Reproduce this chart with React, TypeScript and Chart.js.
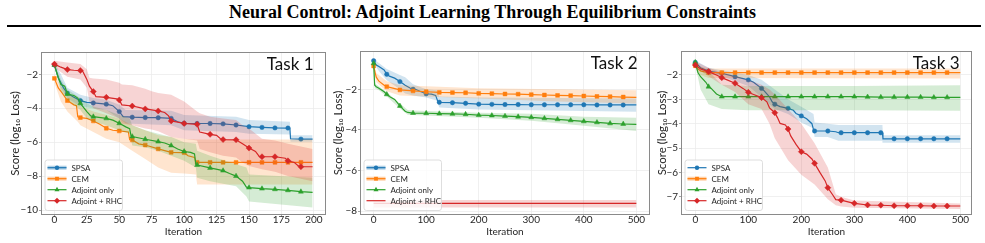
import { useEffect, useRef } from 'react';
import { Chart, registerables } from 'chart.js';

Chart.register(...registerables);

type Pt = [number, number]; // iteration, mean score
type Band = [number, number, number]; // iteration, upper, lower

const SERIES_NAMES = ['SPSA', 'CEM', 'Adjoint only', 'Adjoint + RHC'];
const SERIES_COLORS = ['#1f77b4', '#ff7f0e', '#2ca02c', '#d62728'];
const SERIES_MARKERS = ['circle', 'rect', 'triangle', 'rectRot'];

const FONT = 'Lato, "DejaVu Sans", sans-serif';
const TEXT = '#262626';
const GRID = '#ececec';
const FRAME = '#8a8a8a';

// ---------- Task 1 ----------
const task1XTicks = [0, 25, 50, 75, 100, 125, 150, 175, 200];
const task1YTicks = [-10, -8, -6, -4, -2];

const task1Spsa: Pt[] = [
  [0, -1.45], [3, -2.2], [7, -2.8], [10, -3.12], [15, -3.35], [20, -3.55], [25, -3.65], [30, -3.69],
  [40, -3.76], [45, -3.85], [50, -4.2], [53, -4.5], [60, -4.53], [70, -4.55], [80, -4.56], [90, -4.6],
  [95, -4.8], [100, -4.89], [110, -4.9], [120, -4.9], [130, -4.92], [140, -4.99], [150, -5.09],
  [160, -5.13], [170, -5.16], [180, -5.17], [181.5, -5.17], [182, -5.8], [190, -5.82], [199, -5.82],
];
const task1SpsaBand: Band[] = [
  [0, -1.35, -1.55], [5, -2.0, -2.8], [10, -2.8, -3.4], [20, -3.2, -3.9], [30, -3.4, -4.0],
  [40, -3.5, -4.1], [50, -3.8, -4.6], [55, -4.1, -4.9], [90, -4.15, -5.0], [100, -4.4, -5.3],
  [140, -4.5, -5.4], [150, -4.7, -5.5], [181.5, -4.8, -5.55], [182, -5.6, -5.98], [199, -5.6, -5.98],
];
const task1Cem: Pt[] = [
  [0, -2.24], [3, -2.8], [5, -3.0], [10, -3.55], [15, -3.8], [17, -3.85], [18, -4.5], [20, -4.55],
  [25, -4.6], [30, -4.75], [35, -4.95], [40, -5.18], [45, -5.3], [50, -5.34], [57, -5.4], [58, -5.85],
  [60, -5.87], [65, -6.1], [70, -6.17], [80, -6.4], [85, -6.5], [90, -6.6], [100, -6.62], [103, -6.8],
  [108, -6.9], [109, -7.19], [110, -7.19], [120, -7.19], [130, -7.19], [140, -7.19], [150, -7.19],
  [160, -7.19], [170, -7.19], [180, -7.19], [190, -7.19], [199, -7.19],
];
const task1CemBand: Band[] = [
  [0, -2.0, -2.5], [5, -2.7, -3.6], [10, -3.1, -4.2], [18, -3.5, -4.8], [20, -3.9, -5.0],
  [30, -4.2, -5.4], [40, -4.4, -5.8], [50, -4.6, -6.0], [60, -5.0, -6.5], [70, -5.3, -7.0],
  [80, -5.6, -7.5], [90, -5.7, -7.8], [100, -5.8, -7.85], [109, -5.85, -7.9], [110, -5.85, -8.5],
  [199, -5.85, -8.5],
];
const task1Adj: Pt[] = [
  [0, -1.45], [3, -2.2], [5, -2.6], [8, -2.7], [10, -3.16], [15, -3.25], [18, -3.4], [20, -3.71],
  [25, -4.2], [28, -4.45], [30, -4.5], [40, -4.6], [45, -4.7], [50, -4.89], [55, -5.1], [58, -5.2],
  [59, -5.6], [60, -5.67], [70, -5.83], [80, -5.97], [85, -6.05], [90, -6.2], [95, -6.4], [100, -6.55],
  [105, -6.6], [108, -6.7], [109, -7.3], [110, -7.35], [120, -7.52], [130, -7.68], [135, -7.85],
  [140, -8.0], [145, -8.3], [148, -8.65], [150, -8.68], [160, -8.74], [170, -8.78], [180, -8.84],
  [190, -8.92], [199, -8.96],
];
const task1AdjBand: Band[] = [
  [0, -1.35, -1.6], [5, -2.3, -3.0], [10, -2.9, -3.5], [20, -3.4, -4.1], [25, -3.7, -4.6],
  [30, -3.9, -4.8], [40, -4.1, -5.0], [50, -4.4, -5.3], [58, -4.6, -5.5], [60, -5.0, -6.2],
  [70, -5.3, -6.3], [80, -5.5, -6.5], [90, -5.7, -6.8], [100, -6.0, -7.1], [109, -6.1, -7.5],
  [110, -6.5, -8.1], [120, -6.8, -8.3], [140, -7.3, -8.6], [148, -7.5, -9.2], [150, -7.9, -9.5],
  [199, -8.1, -9.85],
];
const task1Rhc: Pt[] = [
  [0, -1.4], [5, -1.58], [10, -1.72], [15, -1.76], [20, -1.78], [22, -1.85], [25, -2.3], [27, -2.7],
  [30, -3.02], [32, -3.32], [40, -3.36], [48, -3.45], [50, -3.51], [52, -3.8], [60, -3.87], [65, -3.95],
  [70, -4.04], [80, -4.16], [85, -4.25], [88, -4.45], [90, -4.75], [95, -4.82], [100, -4.9], [110, -4.95],
  [112, -5.4], [120, -5.54], [125, -5.6], [128, -5.8], [130, -5.85], [140, -5.86], [145, -6.1],
  [150, -6.35], [155, -6.55], [158, -6.85], [160, -6.86], [170, -6.86], [178, -6.95], [180, -7.1],
  [185, -7.2], [188, -7.4], [190, -7.45], [199, -7.45],
];
const task1RhcBand: Band[] = [
  [0, -1.2, -1.6], [10, -1.3, -2.15], [20, -1.4, -2.3], [25, -1.7, -2.8], [27, -2.2, -3.6],
  [30, -2.25, -4.0], [40, -2.3, -4.3], [50, -2.5, -4.6], [52, -2.6, -4.9], [60, -2.65, -5.0],
  [70, -2.85, -5.2], [75, -3.0, -5.25], [80, -3.1, -5.35], [90, -3.2, -5.7], [100, -3.6, -5.8],
  [110, -4.2, -5.9], [112, -4.3, -6.4], [120, -4.5, -6.6], [130, -4.6, -6.8], [140, -4.7, -6.9],
  [145, -5.0, -7.2], [150, -5.2, -7.4], [160, -5.8, -7.6], [170, -5.9, -7.75], [180, -6.1, -8.0],
  [199, -6.4, -8.3],
];

// ---------- Task 2 ----------
const task2XTicks = [0, 100, 200, 300, 400, 500];
const task2YTicks = [-8, -6, -4, -2];

const task2Spsa: Pt[] = [
  [0, -0.59], [5, -0.8], [10, -0.88], [20, -1.05], [25, -1.26], [30, -1.35], [40, -1.45], [50, -1.62],
  [60, -1.8], [70, -1.95], [75, -2.0], [80, -2.0], [90, -2.12], [100, -2.22], [110, -2.24], [118, -2.3],
  [122, -2.58], [125, -2.64], [150, -2.66], [175, -2.69], [200, -2.73], [225, -2.74], [250, -2.75],
  [275, -2.75], [300, -2.76], [325, -2.76], [350, -2.76], [375, -2.76], [400, -2.76], [425, -2.77],
  [450, -2.77], [475, -2.77], [500, -2.77],
];
const task2SpsaBand: Band[] = [
  [0, -0.5, -0.7], [10, -0.7, -1.1], [25, -1.0, -1.55], [50, -1.3, -2.0], [60, -1.4, -2.2],
  [75, -1.75, -2.3], [100, -2.0, -2.4], [120, -2.05, -2.55], [125, -2.35, -2.9], [200, -2.4, -3.0],
  [500, -2.45, -3.1],
];
const task2Cem: Pt[] = [
  [0, -0.85], [3, -1.2], [5, -1.4], [10, -1.6], [20, -1.8], [25, -1.87], [50, -2.03], [75, -2.08],
  [100, -2.12], [125, -2.15], [150, -2.16], [175, -2.17], [200, -2.2], [225, -2.21], [250, -2.23],
  [275, -2.24], [300, -2.26], [325, -2.28], [350, -2.3], [375, -2.31], [400, -2.33], [425, -2.35],
  [450, -2.36], [475, -2.38], [500, -2.4],
];
const task2CemBand: Band[] = [
  [0, -0.7, -1.0], [5, -1.2, -1.65], [25, -1.6, -2.1], [50, -1.8, -2.3], [100, -1.85, -2.35],
  [200, -1.95, -2.45], [350, -2.0, -2.6], [500, -2.05, -2.7],
];
const task2Adj: Pt[] = [
  [0, -0.72], [2, -1.8], [5, -1.87], [10, -1.95], [20, -2.12], [25, -2.25], [30, -2.35], [40, -2.5],
  [50, -2.82], [55, -2.95], [60, -3.08], [65, -3.14], [75, -3.17], [100, -3.18], [125, -3.2],
  [150, -3.21], [175, -3.23], [200, -3.27], [225, -3.29], [250, -3.32], [275, -3.35], [300, -3.38],
  [325, -3.43], [350, -3.48], [375, -3.53], [400, -3.58], [425, -3.63], [450, -3.68], [475, -3.71],
  [500, -3.73],
];
const task2AdjBand: Band[] = [
  [0, -0.6, -0.8], [2, -1.7, -1.95], [10, -1.85, -2.05], [25, -2.15, -2.35], [50, -2.7, -2.95],
  [65, -3.02, -3.25], [75, -3.05, -3.27], [200, -3.15, -3.4], [300, -3.2, -3.55], [400, -3.35, -3.8],
  [500, -3.4, -4.05],
];
const task2Rhc: Pt[] = [[0, -7.62], [500, -7.62]];
const task2RhcBand: Band[] = [[0, -7.45, -7.82], [500, -7.45, -7.82]];

// ---------- Task 3 ----------
const task3XTicks = [0, 100, 200, 300, 400, 500];
const task3YTicks = [-7, -6, -5, -4, -3, -2];

const task3Spsa: Pt[] = [
  [0, -1.48], [10, -1.7], [25, -1.84], [50, -1.93], [75, -2.07], [100, -2.2], [110, -2.3], [125, -2.55],
  [130, -2.65], [140, -2.9], [145, -3.1], [150, -3.2], [160, -3.3], [175, -3.37], [185, -3.45],
  [190, -3.58], [200, -3.68], [210, -3.8], [220, -4.0], [223, -4.25], [225, -4.3], [250, -4.3],
  [265, -4.33], [270, -4.37], [275, -4.37], [300, -4.37], [325, -4.37], [350, -4.37], [353, -4.37],
  [354, -4.62], [375, -4.62], [400, -4.62], [425, -4.62], [450, -4.62], [475, -4.62], [500, -4.62],
];
const task3SpsaBand: Band[] = [
  [0, -1.4, -1.6], [25, -1.7, -1.95], [50, -1.8, -2.05], [100, -2.0, -2.45], [125, -2.2, -2.9],
  [150, -2.6, -3.4], [175, -3.0, -3.6], [200, -3.3, -3.95], [223, -3.6, -4.2], [225, -3.95, -4.55],
  [250, -4.0, -4.55], [270, -4.05, -4.7], [353, -4.05, -4.7], [354, -4.47, -4.78], [500, -4.47, -4.78],
];
const task3Cem: Pt[] = [
  [0, -1.62], [5, -1.75], [10, -1.83], [20, -1.88], [25, -1.9], [50, -1.9], [75, -1.9], [100, -1.9],
  [125, -1.9], [150, -1.9], [175, -1.9], [200, -1.9], [225, -1.9], [250, -1.9], [275, -1.9], [300, -1.9],
  [325, -1.9], [350, -1.9], [375, -1.9], [400, -1.9], [425, -1.9], [450, -1.9], [475, -1.9], [500, -1.9],
];
const task3CemBand: Band[] = [
  [0, -1.5, -1.72], [10, -1.65, -2.0], [25, -1.73, -2.12], [500, -1.73, -2.14],
];
const task3Adj: Pt[] = [
  [0, -1.48], [5, -1.9], [10, -2.07], [20, -2.3], [25, -2.48], [30, -2.55], [40, -2.78], [50, -2.89],
  [75, -2.89], [100, -2.89], [125, -2.89], [150, -2.89], [175, -2.89], [200, -2.89], [225, -2.89],
  [250, -2.89], [275, -2.89], [300, -2.89], [325, -2.9], [350, -2.91], [375, -2.91], [400, -2.91],
  [425, -2.91], [450, -2.92], [475, -2.92], [500, -2.92],
];
const task3AdjBand: Band[] = [
  [0, -1.4, -1.6], [10, -1.7, -2.6], [25, -1.85, -3.2], [50, -2.4, -3.4], [100, -2.45, -3.45],
  [300, -2.45, -3.45], [500, -2.42, -3.47],
];
const task3Rhc: Pt[] = [
  [0, -1.59], [10, -1.75], [25, -1.86], [40, -2.0], [50, -2.11], [60, -2.2], [75, -2.34], [90, -2.55],
  [100, -2.71], [110, -2.8], [125, -2.93], [135, -3.1], [140, -3.35], [150, -3.55], [155, -3.75],
  [160, -3.99], [170, -4.05], [175, -4.22], [180, -4.5], [190, -4.85], [200, -5.15], [210, -5.25],
  [220, -5.45], [225, -5.63], [235, -6.0], [245, -6.35], [250, -6.63], [260, -6.95], [265, -7.12],
  [275, -7.14], [290, -7.22], [300, -7.27], [325, -7.34], [350, -7.35], [375, -7.37], [400, -7.37],
  [425, -7.37], [450, -7.38], [475, -7.38], [500, -7.38],
];
const task3RhcBand: Band[] = [
  [0, -1.45, -1.7], [25, -1.7, -2.05], [50, -1.9, -2.4], [75, -2.05, -2.7], [100, -2.2, -3.2],
  [125, -2.4, -3.4], [140, -2.6, -4.0], [150, -2.8, -4.6], [175, -3.4, -5.5], [200, -4.0, -6.1],
  [225, -4.8, -6.5], [250, -5.8, -7.1], [265, -6.9, -7.35], [275, -7.0, -7.4], [300, -7.15, -7.45],
  [500, -7.28, -7.5],
];

interface Series { mean: Pt[]; band: Band[]; markers: boolean; wideHandle: boolean }
interface PanelCfg {
  label: string;
  left: number;
  width: number;
  height: number;
  padTop: number;
  padRight: number;
  yAxisWidth: number;
  xAxisHeight: number;
  yTitlePad: number;
  xMin: number; xMax: number; yMin: number; yMax: number;
  xTicks: number[]; yTicks: number[];
  markerEvery: number; lastMarker: number;
  series: Series[];
}

const PANELS: PanelCfg[] = [
  {
    label: 'Task 1', left: 0, width: 330, height: 198, padTop: 7.5, padRight: 4.5,
    yAxisWidth: 41.5, xAxisHeight: 28.5, yTitlePad: 8.1,
    xMin: -9.95, xMax: 208.95, yMin: -10.265, yMax: -0.715,
    xTicks: task1XTicks, yTicks: task1YTicks, markerEvery: 10, lastMarker: 190,
    series: [
      { mean: task1Spsa, band: task1SpsaBand, markers: true, wideHandle: true },
      { mean: task1Cem, band: task1CemBand, markers: true, wideHandle: true },
      { mean: task1Adj, band: task1AdjBand, markers: true, wideHandle: false },
      { mean: task1Rhc, band: task1RhcBand, markers: true, wideHandle: false },
    ],
  },
  {
    label: 'Task 2', left: 328, width: 330, height: 198, padTop: 6.5, padRight: 8.5,
    yAxisWidth: 32.5, xAxisHeight: 28.5, yTitlePad: 3.1,
    xMin: -25, xMax: 525, yMin: -8.17, yMax: -0.136,
    xTicks: task2XTicks, yTicks: task2YTicks, markerEvery: 25, lastMarker: 475,
    series: [
      { mean: task2Spsa, band: task2SpsaBand, markers: true, wideHandle: true },
      { mean: task2Cem, band: task2CemBand, markers: true, wideHandle: true },
      { mean: task2Adj, band: task2AdjBand, markers: true, wideHandle: false },
      { mean: task2Rhc, band: task2RhcBand, markers: false, wideHandle: false },
    ],
  },
  {
    label: 'Task 3', left: 655, width: 330, height: 198, padTop: 6.5, padRight: 13.5,
    yAxisWidth: 26.5, xAxisHeight: 28.5, yTitlePad: 0,
    xMin: -26, xMax: 521, yMin: -7.73, yMax: -1.035,
    xTicks: task3XTicks, yTicks: task3YTicks, markerEvery: 25, lastMarker: 475,
    series: [
      { mean: task3Spsa, band: task3SpsaBand, markers: true, wideHandle: false },
      { mean: task3Cem, band: task3CemBand, markers: true, wideHandle: true },
      { mean: task3Adj, band: task3AdjBand, markers: true, wideHandle: false },
      { mean: task3Rhc, band: task3RhcBand, markers: true, wideHandle: false },
    ],
  },
];

const MARKER_RADIUS: Record<string, number> = { circle: 2.2, rect: 2.7, triangle: 2.9, rectRot: 3 };

function rgba(hex: string, a: number) {
  const n = parseInt(hex.slice(1), 16);
  return `rgba(${(n >> 16) & 255},${(n >> 8) & 255},${n & 255},${a})`;
}

const fmtTick = (v: number | string) => {
  const n = Number(v);
  return n < 0 ? '\u2212' + Math.abs(n) : String(n);
};

function drawMarker(ctx: CanvasRenderingContext2D, style: string, x: number, y: number, r: number) {
  ctx.beginPath();
  if (style === 'circle') {
    ctx.arc(x, y, r, 0, Math.PI * 2);
  } else if (style === 'rect') {
    const h = r * Math.SQRT1_2;
    ctx.rect(x - h, y - h, 2 * h, 2 * h);
  } else if (style === 'triangle') {
    for (let k = 0; k < 3; k++) {
      const ang = k * (2 * Math.PI / 3);
      const px = x + Math.sin(ang) * r;
      const py = y - Math.cos(ang) * r;
      if (k === 0) ctx.moveTo(px, py); else ctx.lineTo(px, py);
    }
    ctx.closePath();
  } else {
    ctx.moveTo(x, y - r);
    ctx.lineTo(x + r, y);
    ctx.lineTo(x, y + r);
    ctx.lineTo(x - r, y);
    ctx.closePath();
  }
  ctx.fill();
}

function Panel({ cfg }: { cfg: PanelCfg }) {
  const ref = useRef<HTMLCanvasElement | null>(null);

  useEffect(() => {
    const canvas = ref.current;
    if (!canvas) return;

    const datasets: any[] = [];
    cfg.series.forEach((s, i) => {
      const color = SERIES_COLORS[i];
      const style = SERIES_MARKERS[i];
      datasets.push({
        data: s.band.map((b) => ({ x: b[0], y: b[1] })),
        borderColor: 'rgba(0,0,0,0)',
        borderWidth: 0,
        pointRadius: 0,
        backgroundColor: rgba(color, 0.2),
        fill: '+1',
        order: -(3 * i),
      });
      datasets.push({
        data: s.band.map((b) => ({ x: b[0], y: b[2] })),
        borderColor: 'rgba(0,0,0,0)',
        borderWidth: 0,
        pointRadius: 0,
        fill: false,
        order: -(3 * i + 1),
      });
      datasets.push({
        data: s.mean.map((p) => ({ x: p[0], y: p[1] })),
        borderColor: color,
        backgroundColor: color,
        borderWidth: 1.2,
        fill: false,
        pointStyle: style,
        pointBackgroundColor: color,
        pointBorderColor: color,
        pointBorderWidth: 0.5,
        pointRadius: (ctx: any) => {
          if (!s.markers || !ctx.raw) return 0;
          const x = ctx.raw.x;
          return x % cfg.markerEvery === 0 && x <= cfg.lastMarker ? MARKER_RADIUS[style] : 0;
        },
        order: -(3 * i + 2),
      });
    });

    const overlay = {
      id: 'panelOverlay',
      afterDatasetsDraw(chart: any) {
        const { ctx, chartArea: a } = chart;
        ctx.save();
        // axes frame
        ctx.strokeStyle = FRAME;
        ctx.lineWidth = 1;
        ctx.strokeRect(a.left, a.top, a.right - a.left, a.bottom - a.top);

        // panel label
        ctx.fillStyle = '#111';
        ctx.font = `17px ${FONT}`;
        ctx.textAlign = 'right';
        ctx.textBaseline = 'alphabetic';
        ctx.fillText(cfg.label, a.right - 12, a.top + 17.2);

        // legend box
        const lx = a.left + 3.5;
        const lw = 77.5;
        const lh = 50.5;
        const ly = a.bottom - 4 - lh;
        ctx.beginPath();
        const r = 2.5;
        ctx.moveTo(lx + r, ly);
        ctx.arcTo(lx + lw, ly, lx + lw, ly + lh, r);
        ctx.arcTo(lx + lw, ly + lh, lx, ly + lh, r);
        ctx.arcTo(lx, ly + lh, lx, ly, r);
        ctx.arcTo(lx, ly, lx + lw, ly, r);
        ctx.closePath();
        ctx.fillStyle = 'rgba(255,255,255,0.8)';
        ctx.fill();
        ctx.strokeStyle = '#d6d6d6';
        ctx.lineWidth = 0.8;
        ctx.stroke();

        ctx.font = `8px ${FONT}`;
        ctx.textAlign = 'left';
        ctx.textBaseline = 'middle';
        cfg.series.forEach((s, i) => {
          const color = SERIES_COLORS[i];
          const y = ly + 7.7 + i * 11;
          const x0 = lx + 2.5;
          const x1 = lx + 21.5;
          if (s.wideHandle) {
            ctx.strokeStyle = rgba(color, 0.35);
            ctx.lineWidth = 4;
            ctx.beginPath();
            ctx.moveTo(x0, y);
            ctx.lineTo(x1, y);
            ctx.stroke();
          }
          ctx.strokeStyle = color;
          ctx.lineWidth = 1.2;
          ctx.beginPath();
          ctx.moveTo(x0, y);
          ctx.lineTo(x1, y);
          ctx.stroke();
          if (s.markers) {
            ctx.fillStyle = color;
            drawMarker(ctx, SERIES_MARKERS[i], (x0 + x1) / 2, y, MARKER_RADIUS[SERIES_MARKERS[i]]);
          }
          ctx.fillStyle = TEXT;
          ctx.fillText(SERIES_NAMES[i], lx + 26.5, y + 0.5);
        });
        ctx.restore();
      },
    };

    const tickFont = { family: FONT, size: 10 };

    const chart = new Chart(canvas, {
      type: 'line',
      data: { datasets },
      plugins: [overlay],
      options: {
        responsive: false,
        animation: false,
        devicePixelRatio: 1,
        events: [],
        layout: { padding: { left: 0, top: cfg.padTop, right: cfg.padRight, bottom: 0 } },
        elements: { line: { tension: 0 } },
        plugins: { legend: { display: false }, tooltip: { enabled: false } },
        scales: {
          x: {
            type: 'linear',
            min: cfg.xMin,
            max: cfg.xMax,
            afterBuildTicks: (s: any) => {
              s.ticks = cfg.xTicks.map((v) => ({ value: v }));
            },
            afterFit: (s: any) => {
              s.height = cfg.xAxisHeight;
              s.paddingLeft = 0;
              s.paddingRight = 0;
            },
            grid: { color: GRID, lineWidth: 0.8, tickLength: 2.5, tickColor: FRAME },
            border: { display: false },
            ticks: { font: tickFont, color: TEXT, padding: -3, maxRotation: 0, autoSkip: false, callback: fmtTick },
            title: {
              display: true,
              text: 'Iteration',
              font: tickFont,
              color: TEXT,
              padding: { top: 0, bottom: 5.5 },
            },
          },
          y: {
            type: 'linear',
            position: 'left',
            min: cfg.yMin,
            max: cfg.yMax,
            afterBuildTicks: (s: any) => {
              s.ticks = cfg.yTicks.map((v) => ({ value: v }));
            },
            afterFit: (s: any) => {
              s.width = cfg.yAxisWidth;
              s.paddingTop = 0;
              s.paddingBottom = 0;
            },
            grid: { color: GRID, lineWidth: 0.8, tickLength: 2.5, tickColor: FRAME },
            border: { display: false },
            ticks: { font: tickFont, color: TEXT, padding: 1, autoSkip: false, callback: fmtTick },
            title: {
              display: true,
              text: 'Score (log\u2081\u2080 Loss)',
              font: { family: FONT, size: 11.5 },
              color: TEXT,
              padding: { top: cfg.yTitlePad, bottom: 0 },
            },
          },
        },
      } as any,
    });

    return () => chart.destroy();
  }, [cfg]);

  return (
    <canvas
      ref={ref}
      width={cfg.width}
      height={cfg.height}
      style={{ position: 'absolute', left: cfg.left, top: 45, width: cfg.width, height: cfg.height }}
    />
  );
}

export default function App() {
  return (
    <div
      style={{
        position: 'absolute',
        left: 0,
        top: 0,
        width: 985,
        height: 243,
        background: '#fff',
        overflow: 'hidden',
      }}
    >
      <div
        style={{
          position: 'absolute',
          top: 1,
          left: 0,
          width: 985,
          textAlign: 'center',
          fontFamily: '"Liberation Serif", "Times New Roman", serif',
          fontWeight: 'bold',
          fontSize: 18,
          lineHeight: '22px',
          color: '#000',
        }}
      >
        Neural Control: Adjoint Learning Through Equilibrium Constraints
      </div>
      <div style={{ position: 'absolute', top: 25, left: 7, width: 974, height: 2, background: '#000' }} />
      {PANELS.map((p) => (
        <Panel key={p.label} cfg={p} />
      ))}
    </div>
  );
}
